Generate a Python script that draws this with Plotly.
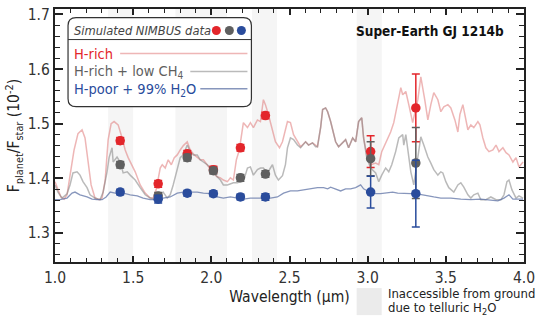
import plotly.graph_objects as go

# ---------------- data ----------------
red_wl = [1.000,1.019,1.038,1.058,1.077,1.096,1.122,1.147,1.173,1.192,1.212,1.231,1.256,1.282,1.301,1.321,1.340,1.359,1.378,1.404,1.423,1.449,1.468,1.487,1.513,1.545,1.577,1.609,1.628,1.647,1.673,1.686,1.705,1.724,1.744,1.763,1.782,1.801,1.821,1.846,1.865,1.891,1.910,1.929,1.949,1.974,1.994,2.013,2.038,2.058,2.077,2.103,2.122,2.141,2.160,2.179,2.205,2.231,2.250,2.269,2.295,2.314,2.333,2.346,2.365,2.391,2.410,2.436,2.455,2.487,2.506,2.526,2.551,2.571,2.603,2.622,2.647,2.679,2.699,2.712,2.731,2.744,2.763,2.776,2.795,2.814,2.840,2.859,2.878,2.904,2.923,2.942,2.962,2.974,2.994,3.019,3.051,3.071,3.090,3.128,3.147,3.167,3.192,3.212,3.224,3.244,3.263,3.288,3.321,3.340,3.365,3.385,3.404,3.423,3.449,3.468,3.487,3.513,3.532,3.558,3.577,3.590,3.609,3.628,3.641,3.660,3.679,3.705,3.718,3.737,3.756,3.776,3.801,3.821,3.840,3.865,3.885,3.904,3.929,3.949,3.968,3.994]
red_flux = [1.394,1.379,1.366,1.362,1.370,1.405,1.452,1.482,1.489,1.474,1.434,1.388,1.364,1.361,1.364,1.397,1.471,1.500,1.504,1.498,1.480,1.452,1.438,1.428,1.412,1.388,1.373,1.364,1.364,1.379,1.419,1.425,1.419,1.434,1.425,1.438,1.443,1.452,1.460,1.467,1.452,1.443,1.439,1.434,1.434,1.425,1.416,1.410,1.403,1.401,1.397,1.394,1.401,1.397,1.434,1.452,1.502,1.493,1.502,1.493,1.507,1.504,1.544,1.535,1.517,1.489,1.467,1.456,1.467,1.504,1.502,1.480,1.467,1.458,1.467,1.461,1.465,1.458,1.493,1.526,1.529,1.522,1.504,1.489,1.467,1.458,1.465,1.471,1.456,1.474,1.467,1.504,1.511,1.474,1.443,1.425,1.428,1.425,1.449,1.474,1.485,1.502,1.535,1.566,1.553,1.559,1.535,1.502,1.544,1.586,1.544,1.507,1.535,1.557,1.544,1.522,1.531,1.535,1.529,1.507,1.485,1.517,1.535,1.511,1.489,1.498,1.493,1.504,1.498,1.474,1.456,1.449,1.452,1.461,1.449,1.456,1.447,1.443,1.430,1.438,1.421,1.430]

gray_wl = [1.000,1.019,1.045,1.077,1.096,1.115,1.141,1.160,1.179,1.205,1.224,1.256,1.288,1.308,1.333,1.346,1.365,1.372,1.397,1.417,1.436,1.462,1.481,1.513,1.545,1.577,1.609,1.641,1.673,1.692,1.718,1.737,1.756,1.782,1.801,1.821,1.846,1.865,1.885,1.910,1.929,1.949,1.974,1.994,2.026,2.058,2.077,2.103,2.122,2.141,2.167,2.186,2.212,2.231,2.250,2.269,2.295,2.314,2.333,2.359,2.378,2.391,2.410,2.429,2.455,2.474,2.487,2.506,2.526,2.551,2.571,2.603,2.622,2.647,2.667,2.679,2.699,2.712,2.731,2.744,2.763,2.776,2.795,2.814,2.840,2.859,2.878,2.904,2.923,2.942,2.962,2.974,2.994,3.019,3.051,3.071,3.090,3.115,3.135,3.154,3.179,3.199,3.224,3.231,3.244,3.263,3.276,3.295,3.321,3.340,3.359,3.385,3.404,3.423,3.449,3.468,3.481,3.500,3.519,3.532,3.551,3.577,3.596,3.615,3.641,3.660,3.679,3.705,3.724,3.756,3.788,3.821,3.853,3.872,3.891,3.904,3.923,3.949,3.968,3.994]
gray_flux = [1.388,1.375,1.364,1.372,1.388,1.410,1.412,1.406,1.394,1.383,1.370,1.364,1.361,1.375,1.412,1.438,1.456,1.430,1.439,1.430,1.410,1.412,1.406,1.397,1.383,1.370,1.364,1.362,1.370,1.375,1.364,1.370,1.388,1.419,1.438,1.443,1.461,1.449,1.443,1.443,1.434,1.430,1.425,1.419,1.406,1.397,1.388,1.388,1.390,1.392,1.392,1.394,1.401,1.419,1.421,1.406,1.416,1.419,1.419,1.410,1.419,1.425,1.406,1.397,1.405,1.425,1.456,1.474,1.471,1.461,1.456,1.467,1.461,1.465,1.458,1.458,1.493,1.526,1.529,1.522,1.504,1.489,1.467,1.458,1.465,1.471,1.456,1.474,1.467,1.504,1.511,1.474,1.438,1.419,1.410,1.394,1.406,1.419,1.412,1.425,1.449,1.474,1.480,1.461,1.480,1.443,1.412,1.388,1.434,1.476,1.461,1.439,1.428,1.416,1.406,1.412,1.410,1.394,1.383,1.379,1.375,1.388,1.392,1.384,1.370,1.364,1.370,1.373,1.361,1.361,1.366,1.361,1.361,1.370,1.394,1.397,1.379,1.364,1.368,1.364]

blue_wl = [1.000,1.032,1.077,1.109,1.128,1.160,1.205,1.237,1.269,1.301,1.327,1.353,1.385,1.423,1.449,1.481,1.526,1.564,1.609,1.654,1.692,1.737,1.782,1.821,1.865,1.910,1.949,1.994,2.038,2.077,2.122,2.167,2.205,2.250,2.295,2.333,2.378,2.423,2.462,2.506,2.551,2.590,2.635,2.679,2.718,2.744,2.763,2.795,2.827,2.859,2.891,2.923,2.955,2.974,3.000,3.032,3.051,3.083,3.128,3.160,3.192,3.231,3.276,3.308,3.340,3.385,3.423,3.468,3.532,3.596,3.660,3.724,3.788,3.833,3.872,3.904,3.929,3.962,3.994]
blue_flux = [1.361,1.361,1.364,1.373,1.375,1.370,1.366,1.362,1.361,1.361,1.366,1.375,1.373,1.373,1.372,1.370,1.368,1.364,1.361,1.361,1.364,1.366,1.373,1.375,1.375,1.375,1.373,1.372,1.366,1.364,1.366,1.364,1.362,1.364,1.364,1.364,1.364,1.366,1.373,1.377,1.377,1.379,1.381,1.383,1.383,1.381,1.384,1.381,1.377,1.381,1.381,1.383,1.388,1.381,1.377,1.375,1.372,1.372,1.373,1.375,1.373,1.372,1.372,1.372,1.370,1.368,1.366,1.364,1.364,1.362,1.361,1.362,1.361,1.359,1.364,1.370,1.362,1.362,1.362]

# simulated NIMBUS data points
obs_wl = [1.417, 1.660, 1.846, 2.013, 2.186, 2.346, 3.019, 3.308]
red_obs = [1.469, 1.390, 1.445, 1.416, 1.456, 1.515, 1.449, 1.529]
red_err = [0.006, 0.006, 0.006, 0.006, 0.006, 0.006, 0.029, 0.062]
gray_obs = [1.425, 1.368, 1.438, 1.414, 1.401, 1.408, 1.436, 1.428]
gray_err = [0.006, 0.006, 0.006, 0.006, 0.006, 0.006, 0.031, 0.065]
blue_obs = [1.375, 1.362, 1.373, 1.372, 1.366, 1.366, 1.375, 1.372]
blue_err = [0.005, 0.007, 0.005, 0.005, 0.005, 0.006, 0.029, 0.061]

# telluric H2O bands (inaccessible from ground)
band_start = [1.34, 1.77, 2.26, 2.93]
band_end = [1.50, 2.10, 2.42, 3.09]

x_ticks = [1.0, 1.5, 2.0, 2.5, 3.0, 3.5, 4.0]
y_ticks = [1.3, 1.4, 1.5, 1.6, 1.7]

# ---------------- style ----------------
FONT = "DejaVu Sans Condensed, Liberation Sans Narrow, Arial Narrow, sans-serif"
RED = "#e3262b"
GRAY = "#5f5f5f"
BLUE = "#2a4c9c"
RED_LINE = "rgba(222,110,110,0.5)"
GRAY_LINE = "rgba(130,130,130,0.55)"
BLUE_LINE = "rgba(95,115,165,0.75)"
BAND = "#f5f5f5"

fig = go.Figure()

fig.add_trace(go.Scatter(x=red_wl, y=red_flux, mode="lines",
                         line=dict(color=RED_LINE, width=1.5), hoverinfo="skip"))
fig.add_trace(go.Scatter(x=gray_wl, y=gray_flux, mode="lines",
                         line=dict(color=GRAY_LINE, width=1.5), hoverinfo="skip"))
fig.add_trace(go.Scatter(x=blue_wl, y=blue_flux, mode="lines",
                         line=dict(color=BLUE_LINE, width=1.3), hoverinfo="skip"))

for obs, err, col in [(red_obs, red_err, RED), (gray_obs, gray_err, GRAY), (blue_obs, blue_err, BLUE)]:
    fig.add_trace(go.Scatter(x=obs_wl, y=obs, mode="markers",
                             marker=dict(color=col, size=9.5, line=dict(width=0)),
                             error_y=dict(type="data", array=err, color=col, thickness=1.5, width=4)))

shapes = []
for s, e in zip(band_start, band_end):
    shapes.append(dict(type="rect", xref="x", yref="paper", x0=s, x1=e, y0=0, y1=1,
                       fillcolor=BAND, line=dict(width=0), layer="below"))

# rounded legend box (paper coords)
x0, x1, yt, yb = 0.0278, 0.4188, 0.9663, 0.6139
rx, ry = 0.0171, 0.0317
path = (f"M {x0+rx},{yt} L {x1-rx},{yt} Q {x1},{yt} {x1},{yt-ry} L {x1},{yb+ry} "
        f"Q {x1},{yb} {x1-rx},{yb} L {x0+rx},{yb} Q {x0},{yb} {x0},{yb+ry} "
        f"L {x0},{yt-ry} Q {x0},{yt} {x0+rx},{yt} Z")
shapes.append(dict(type="path", xref="paper", yref="paper", path=path,
                   fillcolor="white", line=dict(color="#333333", width=1.2), layer="above"))
shapes.append(dict(type="line", xref="paper", yref="paper", x0=x0, x1=x1, y0=0.8792, y1=0.8792,
                   line=dict(color="#333333", width=1), layer="above"))
# legend sample lines
shapes.append(dict(type="line", xref="paper", yref="paper", x0=0.1389, x1=0.4103, y0=0.8238, y1=0.8238,
                   line=dict(color=RED_LINE, width=1.5), layer="above"))
shapes.append(dict(type="line", xref="paper", yref="paper", x0=0.2885, x1=0.4103, y0=0.7525, y1=0.7525,
                   line=dict(color=GRAY_LINE, width=1.5), layer="above"))
shapes.append(dict(type="line", xref="paper", yref="paper", x0=0.3098, x1=0.4103, y0=0.6851, y1=0.6851,
                   line=dict(color=BLUE_LINE, width=1.5), layer="above"))
# legend dots
for xc, col in [(0.3440, RED), (0.3718, GRAY), (0.3974, BLUE)]:
    shapes.append(dict(type="circle", xref="paper", yref="paper", xsizemode="pixel", ysizemode="pixel",
                       xanchor=xc, yanchor=0.915, x0=-4.5, x1=4.5, y0=-4.5, y1=4.5,
                       fillcolor=col, line=dict(width=0), layer="above"))
# telluric legend square
shapes.append(dict(type="rect", xref="paper", yref="paper", x0=0.6432, x1=0.6966, y0=-0.2099, y1=-0.103,
                   fillcolor="#ebebeb", line=dict(width=0)))

annotations = [
    dict(text="<i>Simulated NIMBUS data</i>", x=0.0363, y=0.915, xref="paper", yref="paper",
         xanchor="left", yanchor="middle", showarrow=False, font=dict(family=FONT, size=12.8, color="#444444")),
    dict(text="H-rich", x=0.0363, y=0.8238, xref="paper", yref="paper",
         xanchor="left", yanchor="middle", showarrow=False, font=dict(family=FONT, size=14.5, color=RED)),
    dict(text="H-rich + low CH<sub>4</sub>", x=0.0363, y=0.7525, xref="paper", yref="paper",
         xanchor="left", yanchor="middle", showarrow=False, font=dict(family=FONT, size=14.5, color=GRAY)),
    dict(text="H-poor + 99% H<sub>2</sub>O", x=0.0363, y=0.6812, xref="paper", yref="paper",
         xanchor="left", yanchor="middle", showarrow=False, font=dict(family=FONT, size=14.5, color=BLUE)),
    dict(text="<b>Super-Earth GJ 1214b</b>", x=0.9615, y=0.915, xref="paper", yref="paper",
         xanchor="right", yanchor="middle", showarrow=False, font=dict(family=FONT, size=13.5, color="#111111")),
    dict(text="Inaccessible from ground", x=0.7051, y=-0.125, xref="paper", yref="paper",
         xanchor="left", yanchor="middle", showarrow=False, font=dict(family=FONT, size=13, color="#222222")),
    dict(text="due to telluric H<sub>2</sub>O", x=0.7051, y=-0.183, xref="paper", yref="paper",
         xanchor="left", yanchor="middle", showarrow=False, font=dict(family=FONT, size=13, color="#222222")),
]

fig.update_layout(
    width=540, height=327,
    margin=dict(l=55, r=16, t=9, b=65),
    paper_bgcolor="white", plot_bgcolor="white",
    showlegend=False,
    shapes=shapes, annotations=annotations,
    font=dict(family=FONT, size=15, color="#333333"),
)
fig.update_xaxes(range=[1.0, 4.0], tickvals=x_ticks, ticktext=[f"{v:.1f}" for v in x_ticks],
                 automargin=False,
                 ticks="inside", ticklen=6, tickwidth=1.5, tickcolor="#222",
                 minor=dict(dtick=0.1, ticks="inside", ticklen=4, tickcolor="#222", tickwidth=1),
                 showline=True, linecolor="#222", linewidth=2, mirror="allticks",
                 showgrid=False, zeroline=False,
                 tickfont=dict(family=FONT, size=15.5, color="#333"),
                 title=dict(text="Wavelength (μm)", font=dict(family=FONT, size=15.5, color="#222"), standoff=6))
fig.update_yaxes(range=[1.247, 1.71], tickvals=y_ticks, ticktext=[f"{v:.1f}" for v in y_ticks],
                 automargin=False,
                 ticks="inside", ticklen=8, tickwidth=1.5, tickcolor="#222",
                 minor=dict(dtick=0.02, ticks="inside", ticklen=5, tickcolor="#222", tickwidth=1),
                 showline=True, linecolor="#222", linewidth=2, mirror="allticks",
                 showgrid=False, zeroline=False,
                 tickfont=dict(family=FONT, size=15.5, color="#333"),
                 title=dict(text="F<sub>planet</sub>/F<sub>star</sub> (10<sup>-2</sup>)",
                            font=dict(family=FONT, size=15.5, color="#222"), standoff=4))

fig.write_html("out.html", config={"displayModeBar": False},
               post_script="document.body.style.margin='0px';")
